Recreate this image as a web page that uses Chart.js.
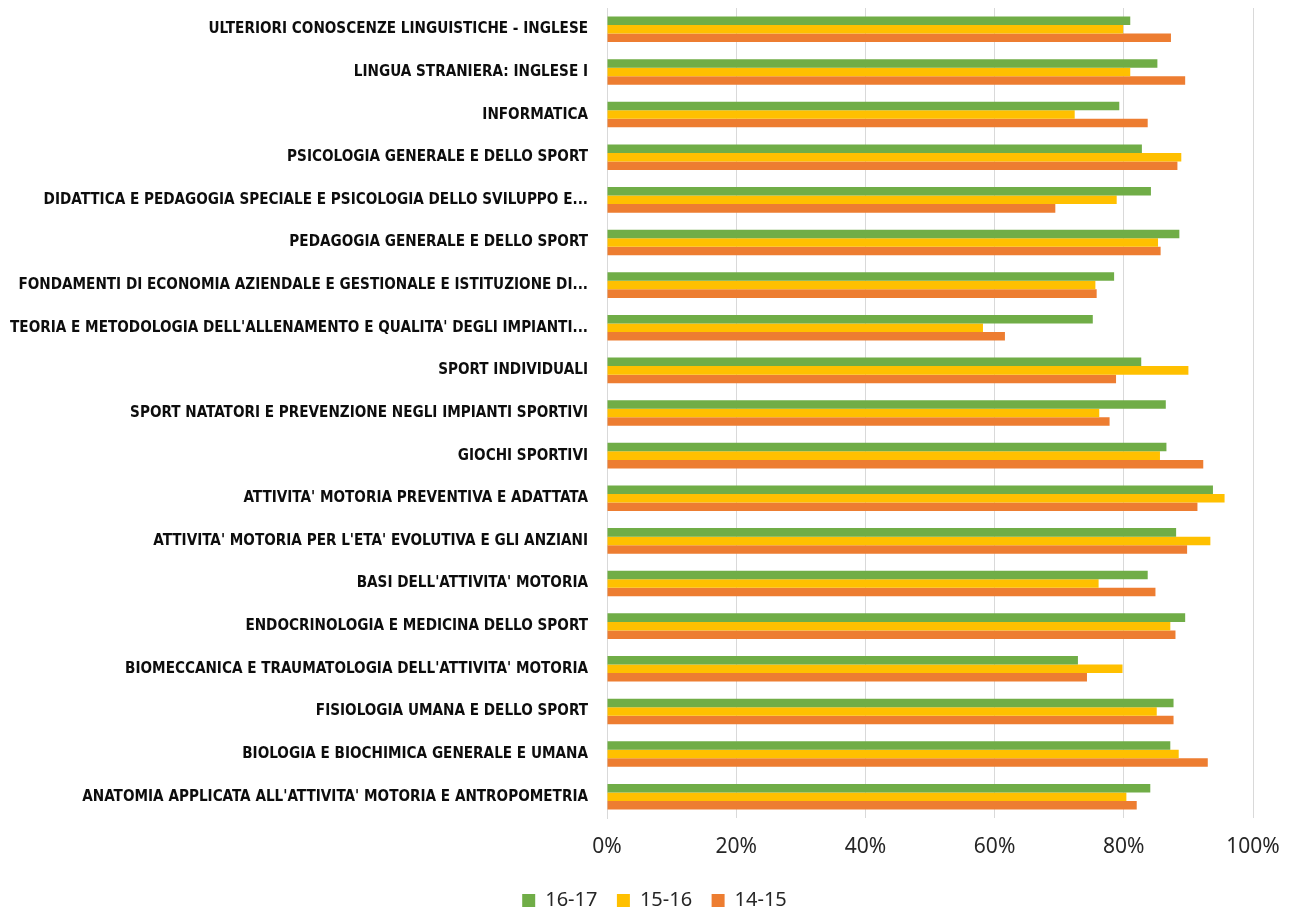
<!DOCTYPE html>
<html>
<head>
<meta charset="utf-8">
<script src="https://cdn.jsdelivr.net/npm/chart.js@4.4.1/dist/chart.umd.min.js"></script>
<style>
  html, body { margin: 0; padding: 0; background: #fff; }
  #wrap { width: 1293px; height: 911px; position: relative; }
</style>
</head>
<body>
<div id="wrap"><canvas id="chart"></canvas></div>
<script>
const courses = [
  "ULTERIORI CONOSCENZE LINGUISTICHE - INGLESE",
  "LINGUA STRANIERA: INGLESE I",
  "INFORMATICA",
  "PSICOLOGIA GENERALE E DELLO SPORT",
  "DIDATTICA E PEDAGOGIA SPECIALE E PSICOLOGIA DELLO SVILUPPO E...",
  "PEDAGOGIA GENERALE E DELLO SPORT",
  "FONDAMENTI DI ECONOMIA AZIENDALE E GESTIONALE E ISTITUZIONE DI...",
  "TEORIA E METODOLOGIA DELL'ALLENAMENTO E QUALITA' DEGLI IMPIANTI...",
  "SPORT INDIVIDUALI",
  "SPORT NATATORI E PREVENZIONE NEGLI IMPIANTI SPORTIVI",
  "GIOCHI SPORTIVI",
  "ATTIVITA' MOTORIA PREVENTIVA E ADATTATA",
  "ATTIVITA' MOTORIA PER L'ETA' EVOLUTIVA E GLI ANZIANI",
  "BASI DELL'ATTIVITA' MOTORIA",
  "ENDOCRINOLOGIA E MEDICINA DELLO SPORT",
  "BIOMECCANICA E TRAUMATOLOGIA DELL'ATTIVITA' MOTORIA",
  "FISIOLOGIA UMANA E DELLO SPORT",
  "BIOLOGIA E BIOCHIMICA GENERALE E UMANA",
  "ANATOMIA APPLICATA ALL'ATTIVITA' MOTORIA E ANTROPOMETRIA"
];

// share of positive answers per course (%)
const y1617 = [81.0, 85.2, 79.3, 82.8, 84.2, 88.6, 78.5, 75.2, 82.7, 86.5, 86.6, 93.8, 88.1, 83.7, 89.5, 72.9, 87.7, 87.2, 84.1];
const y1516 = [79.9, 81.0, 72.4, 88.9, 78.9, 85.3, 75.6, 58.2, 90.0, 76.2, 85.6, 95.6, 93.4, 76.1, 87.2, 79.8, 85.1, 88.5, 80.4];
const y1415 = [87.3, 89.5, 83.7, 88.3, 69.4, 85.7, 75.8, 61.6, 78.8, 77.8, 92.3, 91.4, 89.8, 84.9, 88.0, 74.3, 87.7, 93.0, 82.0];

const seriesNames = ["16-17", "15-16", "14-15"];
const seriesColors = ["#70AD47", "#FFC000", "#ED7D31"];
const xTicks = [0, 20, 40, 60, 80, 100];

const PLOT_LEFT = 607;
const SANS = "'Noto Sans', 'Open Sans', sans-serif";

// nudge the legend row to the right after layout
const legendShift = {
  id: 'legendShift',
  afterLayout(chart) {
    const lg = chart.legend;
    if (lg) { lg.left += 28; lg.right += 28; }
  }
};

const ds = [y1617, y1516, y1415].map((vals, i) => ({
  label: seriesNames[i],
  data: vals,
  backgroundColor: seriesColors[i],
  borderWidth: 0,
  categoryPercentage: 0.6,
  barPercentage: 1.0
}));

new Chart(document.getElementById('chart'), {
  type: 'bar',
  data: { labels: courses, datasets: ds },
  plugins: [legendShift],
  options: {
    indexAxis: 'y',
    responsive: true,
    maintainAspectRatio: false,
    animation: false,
    layout: { padding: { top: 8, right: 40, bottom: 0, left: 0 } },
    scales: {
      x: {
        min: 0, max: 100,
        afterBuildTicks: (axis) => { axis.ticks = xTicks.map(v => ({ value: v })); },
        afterFit: (scale) => {
          scale.height = 53;
          scale.paddingLeft = 0;
          scale.paddingRight = 0;
        },
        ticks: {
          padding: 16,
          color: '#262626',
          font: { family: SANS, size: 21 },
          callback: (v) => v + '%'
        },
        grid: { color: '#d9d9d9', lineWidth: 1, drawTicks: false },
        border: { display: false }
      },
      y: {
        afterFit: (scale) => {
          scale.width = PLOT_LEFT;
          scale.paddingTop = 0;
          scale.paddingBottom = 0;
        },
        ticks: {
          padding: 19,
          color: '#0d0d0d',
          font: { family: "'Liberation Sans Narrow', 'DejaVu Sans Condensed', sans-serif", size: 15.15, weight: 'bold' }
        },
        grid: { display: false, drawTicks: false },
        border: { display: true, color: '#d9d9d9', width: 1 }
      }
    },
    plugins: {
      legend: {
        position: 'bottom',
        maxHeight: 40,
        labels: {
          boxWidth: 13,
          boxHeight: 13,
          padding: 19.5,
          color: '#262626',
          font: { family: SANS, size: 20 }
        }
      },
      tooltip: { enabled: false }
    }
  }
});
</script>
</body>
</html>
